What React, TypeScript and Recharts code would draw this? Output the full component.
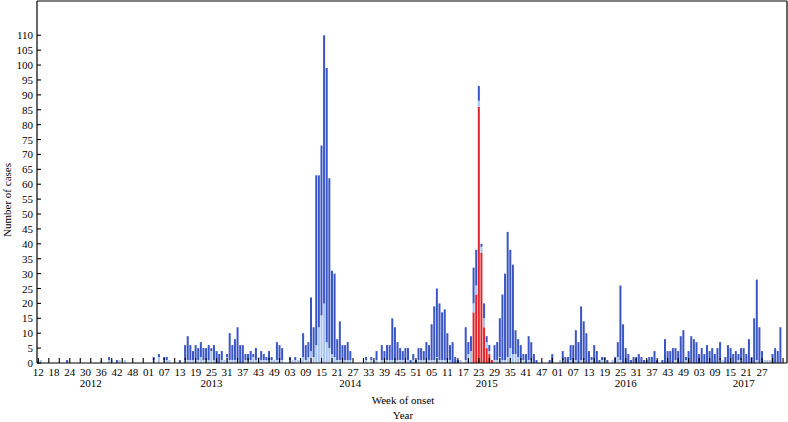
import React from 'react';
import { BarChart, Bar, XAxis, YAxis } from 'recharts';

const FONT = '"Liberation Serif", "Times New Roman", serif';
const DARK_BLUE = '#3a55c6';
const LIGHT_BLUE = '#a7c4f1';
const RED = '#e1242a';

const YEARS = [2012, 2013, 2014, 2015, 2016, 2017];
const FIRST_WEEK = [12, 1, 1, 1, 1, 1];

// where the year name sits under the week labels
const YEAR_LABEL_WEEK = [32, 25, 26, 26, 27, 20];
// week labels run every 6 weeks up to this one
const LAST_WEEK_LABEL = '2017-27';

const Y_TICKS = [0, 5, 10, 15, 20, 25, 30, 35, 40, 45, 50, 55, 60, 65, 70, 75, 80, 85, 90, 95, 100, 105, 110];

// dark blue segment, one value per week (2012 starts at week 12)
const DARK_2012 = [
  0, 0, 0, 0, 0, 0, 0, 0, 0, 0,
  0, 1, 0, 0, 0, 0, 0, 0, 0, 0,
  0, 0, 0, 0, 0, 0, 0, 1, 0, 0,
  1, 0, 0, 0, 0, 0, 0, 0, 0, 0,
  0, 0,
];
const LIGHT_2012 = [
  1, 1, 0, 0, 0, 0, 0, 0, 0, 0,
  0, 0, 0, 0, 0, 0, 0, 0, 0, 0,
  0, 0, 0, 0, 1, 0, 0, 1, 1, 0,
  0, 1, 0, 1, 0, 0, 0, 0, 0, 0,
  0, 0,
];

const DARK_2013 = [
  0, 0, 1, 0, 1, 0, 1, 1, 0, 0,
  0, 0, 1, 0, 5, 8, 5, 3, 5, 4,
  5, 4, 4, 5, 1, 5, 4, 3, 3, 0,
  1, 9, 5, 7, 11, 6, 6, 2, 2, 3,
  1, 4, 0, 3, 2, 1, 3, 1, 0, 6,
  5, 4,
];
const LIGHT_2013 = [
  0, 0, 1, 0, 2, 0, 1, 1, 1, 0,
  0, 0, 0, 0, 1, 1, 1, 1, 1, 1,
  2, 1, 1, 1, 4, 1, 0, 0, 1, 1,
  2, 1, 1, 1, 1, 0, 0, 1, 1, 1,
  2, 1, 2, 1, 1, 1, 1, 1, 1, 1,
  1, 1,
];

const DARK_2014 = [
  0, 0, 1, 0, 1, 0, 0, 8, 5, 5,
  18, 10, 57, 51, 57, 90, 92, 57, 28, 28,
  7, 13, 5, 5, 6, 3, 0, 0, 0, 0,
  0, 1, 0, 1, 0, 3, 0, 5, 3, 5,
  5, 14, 11, 6, 4, 3, 4, 4, 1, 2,
  1, 4,
];
const LIGHT_2014 = [
  0, 0, 1, 1, 1, 1, 1, 2, 1, 2,
  4, 2, 6, 12, 16, 20, 7, 5, 3, 2,
  1, 1, 1, 1, 1, 1, 0, 0, 0, 0,
  0, 1, 0, 1, 1, 1, 0, 1, 1, 1,
  1, 1, 1, 1, 1, 1, 1, 1, 0, 1,
  0, 1,
];

const DARK_2015 = [
  4, 3, 6, 5, 12, 18, 23, 19, 16, 17,
  9, 5, 7, 2, 1, 0, 0, 11, 4, 5,
  12, 12, 5, 1, 5, 2, 2, 0, 5, 6,
  13, 22, 29, 42, 33, 30, 8, 6, 5, 2,
  3, 8, 6, 3, 1, 0, 0, 0, 0, 1,
  3, 0,
];
const LIGHT_2015 = [
  1, 1, 1, 1, 1, 1, 2, 1, 1, 1,
  1, 1, 0, 0, 0, 1, 0, 1, 3, 4,
  3, 3, 2, 2, 3, 2, 1, 0, 1, 1,
  2, 1, 1, 2, 5, 3, 3, 2, 1, 1,
  0, 1, 1, 0, 0, 0, 0, 0, 0, 0,
  0, 0,
];
const RED_2015 = [
  0, 0, 0, 0, 0, 0, 0, 0, 0, 0,
  0, 0, 0, 0, 0, 0, 0, 0, 0, 0,
  17, 23, 86, 37, 12, 5, 3, 1, 0, 0,
  0, 0, 0, 0, 0, 0, 0, 0, 0, 0,
  0, 0, 0, 0, 0, 0, 0, 0, 0, 0,
  0, 0,
];

const DARK_2016 = [
  0, 0, 3, 2, 2, 5, 6, 10, 7, 18,
  13, 10, 4, 1, 6, 4, 1, 1, 1, 1,
  0, 0, 2, 5, 25, 13, 5, 3, 1, 2,
  2, 3, 2, 1, 1, 2, 2, 4, 1, 0,
  1, 8, 4, 4, 5, 4, 4, 9, 11, 1,
  4, 9,
];
const LIGHT_2016 = [
  0, 1, 1, 0, 0, 1, 0, 1, 0, 1,
  1, 0, 0, 1, 0, 0, 0, 1, 1, 0,
  0, 1, 0, 2, 1, 0, 0, 0, 0, 0,
  0, 0, 0, 0, 0, 0, 0, 0, 0, 0,
  0, 0, 0, 0, 0, 1, 0, 0, 0, 1,
  0, 0,
];

const DARK_2017 = [
  8, 7, 3, 5, 3, 6, 4, 5, 3, 5,
  6, 0, 2, 6, 5, 3, 4, 2, 4, 5,
  3, 8, 2, 15, 27, 12, 4, 0, 0, 0,
  3, 5, 4, 12, 0, 0,
];
const LIGHT_2017 = [
  0, 0, 0, 0, 0, 0, 0, 0, 0, 0,
  1, 1, 0, 0, 0, 0, 0, 1, 1, 0,
  0, 0, 0, 0, 1, 0, 0, 1, 1, 1,
  0, 0, 0, 0, 0, 0,
];

const DARK_BY_YEAR = [DARK_2012, DARK_2013, DARK_2014, DARK_2015, DARK_2016, DARK_2017];
const LIGHT_BY_YEAR = [LIGHT_2012, LIGHT_2013, LIGHT_2014, LIGHT_2015, LIGHT_2016, LIGHT_2017];
const RED_BY_YEAR: (number[] | null)[] = [null, null, null, RED_2015, null, null];

type Row = { key: string; year: number; week: number; dark: number; light: number; red: number };

const rows: Row[] = [];
YEARS.forEach((year, y) => {
  DARK_BY_YEAR[y].forEach((dark, k) => {
    const week = FIRST_WEEK[y] + k;
    rows.push({
      key: `${year}-${week}`,
      year,
      week,
      dark,
      light: LIGHT_BY_YEAR[y][k],
      red: RED_BY_YEAR[y] ? RED_BY_YEAR[y]![k] : 0,
    });
  });
});

const rowIndex = new Map(rows.map((r, i) => [r.key, i]));
const lastLabelIndex = rowIndex.get(LAST_WEEK_LABEL) ?? rows.length - 1;
const yearLabelKeys = new Set(YEARS.map((year, y) => `${year}-${YEAR_LABEL_WEEK[y]}`));

function WeekTick(props: any) {
  const { x, y, payload } = props;
  const i = rowIndex.get(payload.value) ?? 0;
  const row = rows[i];
  return (
    <g>
      {i % 4 === 0 && <line x1={x} x2={x} y1={y} y2={y - 5} stroke="#000" strokeWidth={1.1} />}
      {i % 6 === 0 && i <= lastLabelIndex && (
        <text x={x} y={y + 13} textAnchor="middle" fontSize={11} fontFamily={FONT} fill="#000">
          {String(row.week).padStart(2, '0')}
        </text>
      )}
      {yearLabelKeys.has(payload.value) && (
        <text x={x} y={y + 24} textAnchor="middle" fontSize={11} fontFamily={FONT} fill="#000">
          {row.year}
        </text>
      )}
    </g>
  );
}

function CountTick(props: any) {
  const { x, y, payload } = props;
  return (
    <g>
      <line x1={x} x2={x + 4} y1={y} y2={y} stroke="#000" strokeWidth={1.1} />
      <text x={x - 4} y={y} dy={4} textAnchor="end" fontSize={11} fontFamily={FONT} fill="#000">
        {payload.value}
      </text>
    </g>
  );
}

export default function App() {
  return (
    <div style={{ position: 'absolute', left: 0, top: 0, width: 788, height: 422, background: '#fff' }}>
      <BarChart
        width={788}
        height={422}
        data={rows}
        margin={{ top: 1, right: 1, bottom: 0, left: 0 }}
        barCategoryGap="10%"
      >
        <XAxis
          dataKey="key"
          interval={0}
          height={59}
          tickSize={0}
          tickMargin={0}
          tickLine={false}
          axisLine={{ stroke: '#000', strokeWidth: 1.2 }}
          tick={(p: any) => <WeekTick {...p} />}
        />
        <YAxis
          width={37}
          domain={[0, 121.5]}
          ticks={Y_TICKS}
          interval={0}
          tickSize={0}
          tickMargin={0}
          tickLine={false}
          axisLine={{ stroke: '#000', strokeWidth: 1.2 }}
          tick={(p: any) => <CountTick {...p} />}
        />
        <Bar dataKey="red" stackId="cases" fill={RED} isAnimationActive={false} />
        <Bar dataKey="light" stackId="cases" fill={LIGHT_BLUE} isAnimationActive={false} />
        <Bar dataKey="dark" stackId="cases" fill={DARK_BLUE} isAnimationActive={false} />
      </BarChart>
      <svg
        width={788}
        height={422}
        style={{ position: 'absolute', left: 0, top: 0, pointerEvents: 'none' }}
      >
        <line x1={37} x2={787} y1={1} y2={1} stroke="#000" strokeWidth={1.2} />
        <line x1={787} x2={787} y1={1} y2={363} stroke="#000" strokeWidth={1.2} />
        <text x={403} y={404} textAnchor="middle" fontSize={11} fontFamily={FONT} fill="#000">
          Week of onset
        </text>
        <text x={403} y={419} textAnchor="middle" fontSize={11} fontFamily={FONT} fill="#000">
          Year
        </text>
        <text
          x={11}
          y={200}
          transform="rotate(-90 11 200)"
          textAnchor="middle"
          fontSize={11}
          fontFamily={FONT}
          fill="#000"
        >
          Number of cases
        </text>
      </svg>
    </div>
  );
}
